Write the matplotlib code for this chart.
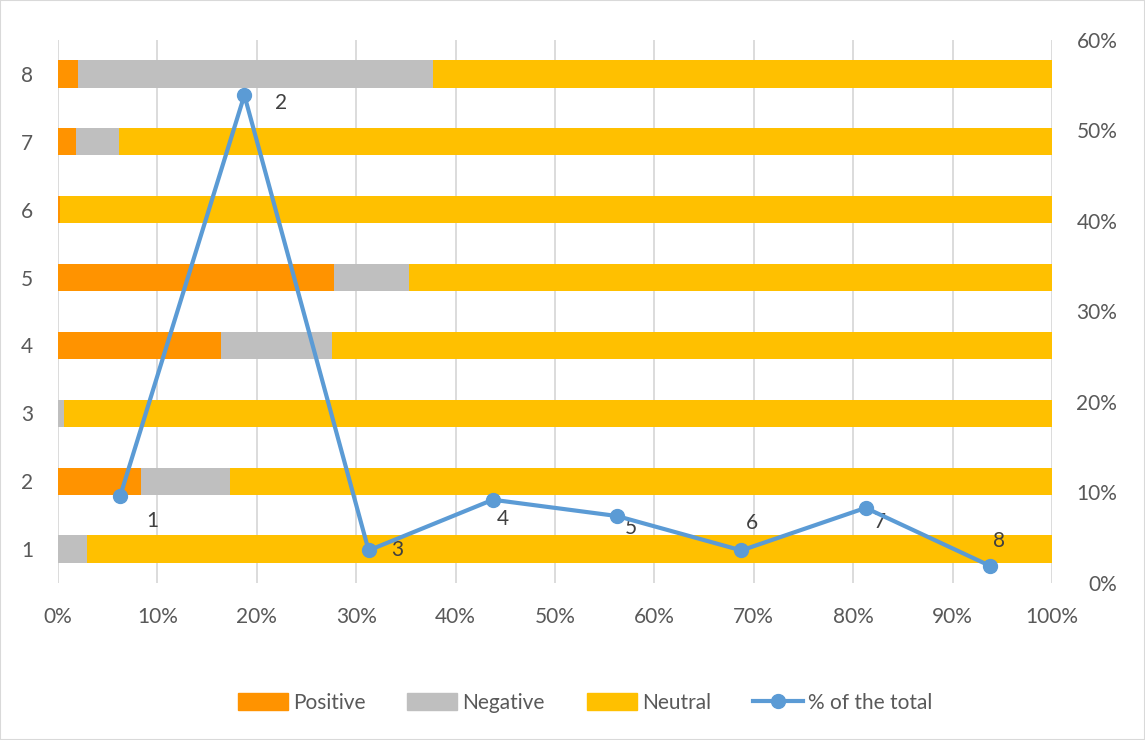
import matplotlib
matplotlib.use("Agg")
import matplotlib.pyplot as plt
from matplotlib.patches import Patch, Rectangle
from matplotlib.lines import Line2D
from matplotlib.ticker import PercentFormatter, MultipleLocator

plt.rcParams['font.family'] = ['Lato', 'DejaVu Sans']

categories = ['1', '2', '3', '4', '5', '6', '7', '8']
positive = [0.0, 8.4, 0.0, 16.4, 27.8, 0.2, 1.8, 2.0]
negative = [2.9, 8.9, 0.6, 11.2, 7.5, 0.0, 4.3, 35.7]
neutral = [100 - p - n for p, n in zip(positive, negative)]
share_of_total = [9.6, 53.9, 3.6, 9.2, 7.4, 3.6, 8.3, 1.9]
label_offsets = [(32, -25), (37, -8), (29, 0), (10, -19), (14, -12), (11, 27), (14, -14), (9, 25)]

C_POS = '#FF9300'
C_NEG = '#BFBFBF'
C_NEU = '#FFC000'
C_LINE = '#5B9BD5'
TXT = '#595959'
GRID = '#D9D9D9'
FS = 15

W, H = 1145, 740
fig = plt.figure(figsize=(W / 100, H / 100), dpi=100)
ax = fig.add_axes([58 / W, 1 - 583 / H, (1052 - 58) / W, (583 - 40) / H])

ypos = list(range(len(categories)))
pos_f = [v / 100 for v in positive]
neg_f = [v / 100 for v in negative]
neu_f = [v / 100 for v in neutral]
left2 = [a + b for a, b in zip(pos_f, neg_f)]
ax.barh(ypos, pos_f, height=0.4, color=C_POS, zorder=2)
ax.barh(ypos, neg_f, left=pos_f, height=0.4, color=C_NEG, zorder=2)
ax.barh(ypos, neu_f, left=left2, height=0.4, color=C_NEU, zorder=2)

ax.set_xlim(0, 1)
ax.set_ylim(-0.5, 7.5)
ax.xaxis.set_major_locator(MultipleLocator(0.1))
ax.xaxis.set_major_formatter(PercentFormatter(1.0, decimals=0))
ax.set_yticks(ypos)
ax.set_yticklabels(categories)
ax.grid(axis='x', color=GRID, linewidth=1.3, zorder=0)
for s in ax.spines.values():
    s.set_visible(False)
ax.tick_params(axis='both', length=0, labelsize=FS, colors=TXT)
ax.tick_params(axis='x', pad=17)
ax.tick_params(axis='y', pad=18)

ax2 = ax.twinx()
ax2.set_ylim(0, 0.6)
ax2.yaxis.set_major_locator(MultipleLocator(0.1))
ax2.yaxis.set_major_formatter(PercentFormatter(1.0, decimals=0))
ax2.tick_params(axis='y', length=0, labelsize=FS, colors=TXT, pad=47)
for lbl in ax2.get_yticklabels():
    lbl.set_horizontalalignment('right')
for s in ax2.spines.values():
    s.set_visible(False)

ax3 = ax2.twiny()
ax3.set_xlim(-0.5, len(categories) - 0.5)
ax3.set_xticks([])
for s in ax3.spines.values():
    s.set_visible(False)
xs = list(range(len(categories)))
vals = [v / 100 for v in share_of_total]
ax3.plot(xs, vals, color=C_LINE, linewidth=3.0, marker='o', markersize=10,
         solid_joinstyle='miter', zorder=5, clip_on=False)
for x, v, lab, off in zip(xs, vals, categories, label_offsets):
    ax3.annotate(lab, (x, v), xytext=off, textcoords='offset pixels',
                 ha='center', va='center', fontsize=FS, color='#404040')

handles = [Patch(color=C_POS), Patch(color=C_NEG), Patch(color=C_NEU),
           Line2D([0], [0], color=C_LINE, linewidth=3, marker='o', markersize=10)]
fig.legend(handles, ['Positive', 'Negative', 'Neutral', '% of the total'],
           loc='center', bbox_to_anchor=(585 / W, 1 - 703 / H), ncol=4,
           frameon=False, fontsize=FS, labelcolor=TXT, handlelength=2.4,
           handleheight=0.9, columnspacing=2.0, handletextpad=0.25)

fig.patches.append(Rectangle((0, 0), 1, 1, transform=fig.transFigure,
                             fill=False, edgecolor='#D9D9D9', linewidth=1.5))

fig.savefig('out.png', dpi=100)
